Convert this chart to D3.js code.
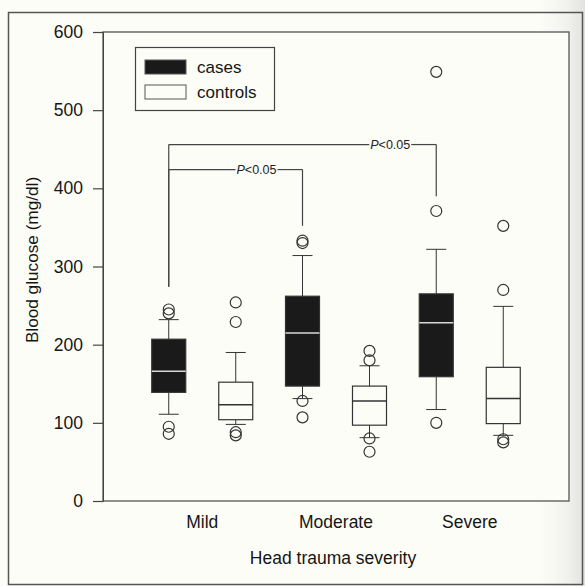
<!DOCTYPE html>
<html>
<head>
<meta charset="utf-8">
<script src="https://cdn.jsdelivr.net/npm/d3@7"></script>
<style>
  html, body { margin: 0; padding: 0; background: #fdfdf8; }
  svg { display: block; font-family: "Liberation Sans", Arial, sans-serif; }
</style>
</head>
<body>
<div id="chart"></div>
<script>
const width = 585;
const height = 586;

const categories = ["Mild", "Moderate", "Severe"];
const groups = ["cases", "controls"];
const yTicks = [0, 100, 200, 300, 400, 500, 600];

// box stats, one value per category
const casesQ1 = [139, 147, 159];
const casesMedian = [166, 215, 228];
const casesQ3 = [207, 262, 265];
const casesLow = [111, 131, 117];
const casesHigh = [232, 314, 322];
const casesOutliers = [[245, 240, 95, 86], [333, 330, 128, 107], [549, 371, 100]];

const controlsQ1 = [104, 97, 99];
const controlsMedian = [123, 128, 131];
const controlsQ3 = [152, 147, 171];
const controlsLow = [98, 81, 84];
const controlsHigh = [190, 173, 249];
const controlsOutliers = [[254, 229, 88, 84], [192, 180, 80, 63], [352, 270, 79, 75]];

// significance brackets: from Mild cases to another cases box
const bracketTargets = ["Moderate", "Severe"];
const bracketLevels = [424, 456];
const bracketStartLow = [274, 274];
const bracketEndLow = [352, 390];
const bracketLabel = "<0.05";

const margin = { left: 103, right: 16, top: 32, bottom: 85 };
const plotRight = width - margin.right;
const plotBottom = height - margin.bottom;

const BOX_WIDTH = 34;
const CAP_HALF = 10;
const OUTLIER_R = 5.5;
const ink = "#333";
const textInk = "#151515";

const boxes = [];
categories.forEach((cat, i) => {
  boxes.push({
    category: cat, group: "cases",
    q1: casesQ1[i], median: casesMedian[i], q3: casesQ3[i],
    low: casesLow[i], high: casesHigh[i], outliers: casesOutliers[i]
  });
  boxes.push({
    category: cat, group: "controls",
    q1: controlsQ1[i], median: controlsMedian[i], q3: controlsQ3[i],
    low: controlsLow[i], high: controlsHigh[i], outliers: controlsOutliers[i]
  });
});

const svg = d3.select("#chart")
  .append("svg")
  .attr("width", width)
  .attr("height", height);

const defs = svg.append("defs");
const shade = defs.append("linearGradient")
  .attr("id", "edgeShade")
  .attr("x1", "0").attr("x2", "1").attr("y1", "0").attr("y2", "0");
shade.append("stop").attr("offset", "0").attr("stop-color", "#fdfdf8");
shade.append("stop").attr("offset", "0.6").attr("stop-color", "#f1f1ee");
shade.append("stop").attr("offset", "1").attr("stop-color", "#e2e2e0");

svg.append("rect")
  .attr("width", width).attr("height", height)
  .attr("fill", "#fdfdf8");
svg.append("rect")
  .attr("x", 540).attr("y", 0)
  .attr("width", width - 540).attr("height", height)
  .attr("fill", "url(#edgeShade)");

// outer frame of the figure
svg.append("rect")
  .attr("x", 8.5).attr("y", 12.5)
  .attr("width", 574).attr("height", 572)
  .attr("fill", "none")
  .attr("stroke", "#555")
  .attr("stroke-width", 1.5);

const x = d3.scalePoint()
  .domain(categories)
  .range([margin.left, plotRight])
  .padding(0.742);

const offset = d3.scalePoint()
  .domain(groups)
  .range([-33.5, 33.5]);

const y = d3.scaleLinear()
  .domain([0, 600])
  .range([plotBottom, margin.top]);

// plot frame
svg.append("rect")
  .attr("x", margin.left).attr("y", margin.top)
  .attr("width", plotRight - margin.left)
  .attr("height", plotBottom - margin.top)
  .attr("fill", "#fdfdf8")
  .attr("stroke", "#555")
  .attr("stroke-width", 1.3);

const yAxis = svg.append("g")
  .attr("transform", `translate(${margin.left},0)`)
  .call(d3.axisLeft(y).tickValues(yTicks).tickSize(10).tickPadding(10));
yAxis.select(".domain").attr("stroke", "#444");
yAxis.selectAll(".tick line").attr("stroke", "#444").attr("stroke-width", 1.2);
yAxis.selectAll(".tick text")
  .attr("font-size", 17.5)
  .attr("fill", textInk)
  .attr("font-family", "\"Liberation Sans\", Arial, sans-serif");

// category labels
svg.append("g")
  .selectAll("text")
  .data(categories)
  .join("text")
  .attr("x", d => x(d))
  .attr("y", plotBottom + 27)
  .attr("text-anchor", "middle")
  .attr("font-size", 17.5)
  .attr("fill", textInk)
  .text(d => d);

svg.append("text")
  .attr("x", 333)
  .attr("y", 564)
  .attr("text-anchor", "middle")
  .attr("font-size", 17.5)
  .attr("fill", textInk)
  .text("Head trauma severity");

svg.append("text")
  .attr("transform", `translate(38,260) rotate(-90)`)
  .attr("text-anchor", "middle")
  .attr("font-size", 17.2)
  .attr("fill", textInk)
  .text("Blood glucose (mg/dl)");

// significance brackets
const leftX = x("Mild") + offset("cases");
bracketTargets.forEach((target, i) => {
  const rightX = x(target) + offset("cases");
  const yLevel = y(bracketLevels[i]);
  const labelEnd = rightX - 26;
  const labelWidth = 40;

  const g = svg.append("g")
    .attr("fill", "none")
    .attr("stroke", "#444")
    .attr("stroke-width", 1.2);

  g.append("line")
    .attr("x1", leftX).attr("x2", leftX)
    .attr("y1", y(bracketStartLow[i])).attr("y2", yLevel);
  g.append("line")
    .attr("x1", leftX).attr("x2", labelEnd - labelWidth - 1)
    .attr("y1", yLevel).attr("y2", yLevel);
  g.append("line")
    .attr("x1", labelEnd + 1).attr("x2", rightX)
    .attr("y1", yLevel).attr("y2", yLevel);
  g.append("line")
    .attr("x1", rightX).attr("x2", rightX)
    .attr("y1", yLevel).attr("y2", y(bracketEndLow[i]));

  const t = svg.append("text")
    .attr("x", labelEnd)
    .attr("y", yLevel + 4.5)
    .attr("text-anchor", "end")
    .attr("font-size", 12.5)
    .attr("fill", "#222");
  t.append("tspan").attr("font-style", "italic").text("P");
  t.append("tspan").text(bracketLabel);
});

// box plots
const boxG = svg.append("g")
  .selectAll("g")
  .data(boxes)
  .join("g")
  .attr("transform", d => `translate(${x(d.category) + offset(d.group)},0)`);

boxG.append("line")
  .attr("x1", 0).attr("x2", 0)
  .attr("y1", d => y(d.high)).attr("y2", d => y(d.q3))
  .attr("stroke", ink);
boxG.append("line")
  .attr("x1", 0).attr("x2", 0)
  .attr("y1", d => y(d.q1)).attr("y2", d => y(d.low))
  .attr("stroke", ink);
boxG.append("line")
  .attr("x1", -CAP_HALF).attr("x2", CAP_HALF)
  .attr("y1", d => y(d.high)).attr("y2", d => y(d.high))
  .attr("stroke", ink);
boxG.append("line")
  .attr("x1", -CAP_HALF).attr("x2", CAP_HALF)
  .attr("y1", d => y(d.low)).attr("y2", d => y(d.low))
  .attr("stroke", ink);

boxG.append("rect")
  .attr("x", -BOX_WIDTH / 2)
  .attr("width", BOX_WIDTH)
  .attr("y", d => y(d.q3))
  .attr("height", d => y(d.q1) - y(d.q3))
  .attr("fill", d => d.group === "cases" ? "#1a1a1a" : "#fdfdf8")
  .attr("stroke", ink)
  .attr("stroke-width", 1.2);

boxG.append("line")
  .attr("x1", -BOX_WIDTH / 2).attr("x2", BOX_WIDTH / 2)
  .attr("y1", d => y(d.median)).attr("y2", d => y(d.median))
  .attr("stroke", d => d.group === "cases" ? "#d8d8d8" : ink)
  .attr("stroke-width", 1.5);

boxG.selectAll("circle")
  .data(d => d.outliers)
  .join("circle")
  .attr("cx", 0)
  .attr("cy", d => y(d))
  .attr("r", OUTLIER_R)
  .attr("fill", "none")
  .attr("stroke", ink)
  .attr("stroke-width", 1.2);

// legend
const legend = svg.append("g");
legend.append("rect")
  .attr("x", 135.5).attr("y", 47.5)
  .attr("width", 139).attr("height", 63)
  .attr("fill", "#fdfdf8")
  .attr("stroke", "#444")
  .attr("stroke-width", 1.2);

const legendItems = legend.selectAll("g")
  .data(groups)
  .join("g")
  .attr("transform", (d, i) => `translate(145,${60 + i * 25})`);

legendItems.append("rect")
  .attr("width", 41).attr("height", 14)
  .attr("fill", d => d === "cases" ? "#1a1a1a" : "#fdfdf8")
  .attr("stroke", "#555");

legendItems.append("text")
  .attr("x", 52)
  .attr("y", 13)
  .attr("font-size", 17)
  .attr("fill", textInk)
  .text(d => d);
</script>
</body>
</html>
